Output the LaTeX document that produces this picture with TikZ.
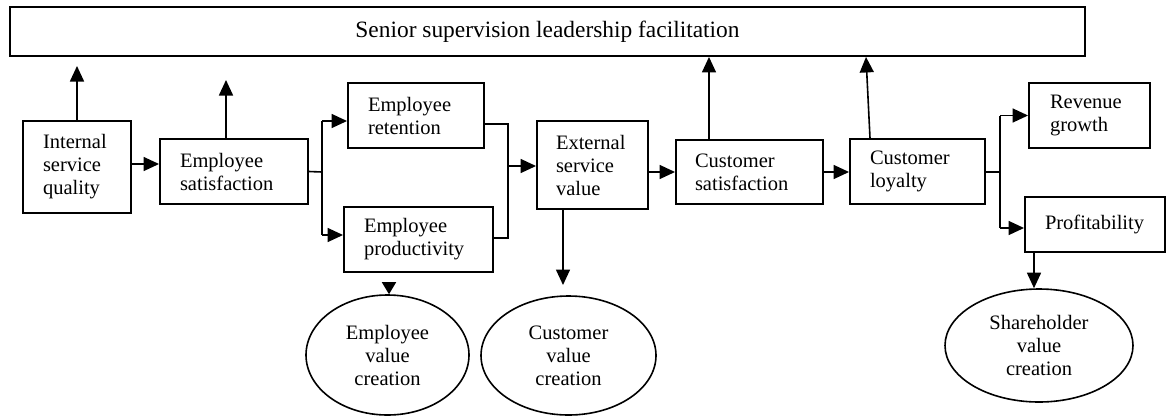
\documentclass[tikz,border=0pt]{standalone}
\usepackage{fontspec}
\setmainfont{Liberation Serif}
\usetikzlibrary{arrows.meta,shapes.geometric}
\hyphenpenalty=10000
\exhyphenpenalty=10000
\tikzset{
  txt/.style={font=\fontsize{20.5}{23}\selectfont},
  bx/.style={txt, draw, line width=1.9pt, rectangle, align=left, inner xsep=20pt, inner ysep=0pt},
  topbx/.style={font=\fontsize{23.4}{26}\selectfont, draw, line width=1.9pt, rectangle, align=center, inner sep=0pt},
  ell/.style={txt, draw, line width=1.6pt, ellipse, align=center, inner sep=0pt},
  arr/.style={line width=1.6pt, -{Triangle[length=15.5pt,width=14pt]}},
  sarr/.style={line width=1.6pt, -{Triangle[length=12pt,width=14pt]}},
  ln/.style={line width=1.6pt}
}
\begin{document}
\begin{tikzpicture}[x=1pt,y=-1pt]
\useasboundingbox (0,0) rectangle (1167,416);

% boxes
\node[topbx, minimum width=1075pt, minimum height=49pt] (top) at (547.5,31.5) {Senior supervision leadership facilitation};
\node[bx, minimum width=108pt, minimum height=92pt, text width=68pt] (isq) at (77,167) {Internal\\service\\quality};
\node[bx, minimum width=148pt, minimum height=65pt, text width=108pt] (es) at (234,171.5) {Employee\\satisfaction};
\node[bx, minimum width=136pt, minimum height=65pt, text width=96pt] (ret) at (416,115.5) {Employee\\retention};
\node[bx, minimum width=149pt, minimum height=65pt, text width=109pt] (prod) at (418.5,239.5) {Employee\\productivity};
\node[bx, inner xsep=19pt, minimum width=111pt, minimum height=88pt, text width=73pt] (esv) at (592.5,165) {External\\service\\value};
\node[bx, inner xsep=19pt, minimum width=147pt, minimum height=64pt, text width=109pt] (cs) at (749.5,172) {Customer\\satisfaction};
\node[bx, minimum width=135pt, minimum height=65pt, text width=95pt] (cl) at (917.5,171.5) {Customer\\loyalty};
\node[bx, inner xsep=21pt, minimum width=121pt, minimum height=65pt, text width=79pt] (rev) at (1089.5,115.5) {Revenue\\growth};
\node[bx, inner xsep=20pt, minimum width=140pt, minimum height=55pt, text width=100pt] (prof) at (1095,224.5) {Profitability};

% ellipses
\node[ell, minimum width=163pt, minimum height=120pt] (evc) at (387.5,355) {Employee\\value\\creation};
\node[ell, minimum width=175pt, minimum height=119pt] (cvc) at (568.5,355.5) {Customer\\value\\creation};
\node[ell, minimum width=188pt, minimum height=113pt] (svc) at (1039,345.5) {Shareholder\\value\\creation};

% helper coordinates
\coordinate (t1) at (77,66);
\coordinate (t2) at (226,80);
\coordinate (t3) at (709,0);
\coordinate (t4a) at (870,0);
\coordinate (t4b) at (866,0);
\coordinate (j1) at (322,172);
\coordinate (j2top) at (508,124);
\coordinate (j2) at (508,166);
\coordinate (j2bot) at (508,238);
\coordinate (j3) at (1000,172);
\coordinate (a5) at (563,285);
\coordinate (a6) at (389,282);
\coordinate (a7) at (1034,0);

% arrows to top box
\draw[arr] (isq.north) -- (t1);
\draw[arr] (t2 |- es.north) -- (t2);
\draw[arr] (t3 |- cs.north) -- (t3 |- top.south);
\draw[arr] (t4a |- cl.north) -- (t4b |- top.south);

% main chain
\draw[arr] ([yshift=3pt]isq.east) -- ([yshift=3pt]isq.east -| es.west);
\draw[ln] (es.east) -- (j1);
\draw[ln] ([yshift=51pt]j1) -- ([yshift=-63pt]j1);
\draw[arr] ([yshift=-5.5pt]ret.west -| j1) -- ([yshift=-5.5pt]ret.west);
\draw[arr] ([yshift=4.5pt]prod.west -| j1) -- ([yshift=4.5pt]prod.west);
\draw[ln] ([yshift=-8.5pt]ret.east) -- (j2top) -- (j2bot) -- (prod.east |- j2bot);
\draw[arr] (j2) -- (j2 -| esv.west);
\draw[arr] ([yshift=-7pt]esv.east) -- ([yshift=-7pt]esv.east -| cs.west);
\draw[arr] (cs.east) -- (cs.east -| cl.west);
\draw[ln] (cl.east |- j3) -- (j3);
\draw[ln] ([yshift=56pt]j3) -- ([yshift=-56pt]j3);
\draw[arr] (rev.west -| j3) -- (rev.west);
\draw[arr] ([yshift=-3.5pt]prof.west -| j3) -- ([yshift=-3.5pt]prof.west);

% arrows down to ellipses
\draw[arr] (a5 |- esv.south) -- (a5);
\draw[sarr] (a6) -- (a6 |- evc.north);
\draw[arr] (a7 |- prof.south) -- (a7 |- svc.north);
\end{tikzpicture}
\end{document}
